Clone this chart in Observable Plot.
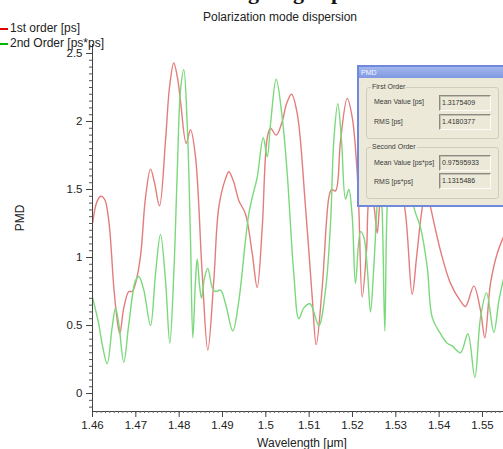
<!DOCTYPE html>
<html><head><meta charset="utf-8">
<script src="https://cdn.jsdelivr.net/npm/d3@7"></script>
<script src="https://cdn.jsdelivr.net/npm/@observablehq/plot@0.6"></script>
<style>
body{margin:0;background:#fff;}
#wrap{position:relative;width:503px;height:449px;overflow:hidden;font-family:"Liberation Sans",Arial,sans-serif;color:#222;}
.abs{position:absolute;white-space:nowrap;}
#dlg{position:absolute;left:357px;top:65px;width:148px;height:142px;background:#ece9d8;border:2px solid #7089dc;box-sizing:border-box;font-size:7px;color:#3a3a3a;}
#dlg .bar{position:absolute;left:0;top:0;right:0;height:11px;background:linear-gradient(#a3b7ee,#7f98e2);color:#f4f6ff;font-size:7px;line-height:11px;padding-left:2px;}
#dlg .grp{position:absolute;border:1px solid #cfcdbd;border-radius:3px;}
#dlg .gl{position:absolute;background:#ece9d8;padding:0 1px;line-height:8px;}
#dlg .lb{position:absolute;line-height:8px;}
#dlg .vb{position:absolute;border:1px solid;border-color:#8d8b80 #fbfbf8 #fbfbf8 #8d8b80;box-shadow:inset 1px 1px 0 #c2c0b4;box-sizing:border-box;padding-left:2px;line-height:14px;color:#333;}
</style></head>
<body>
<div id="wrap">
  <div id="chart" class="abs" style="left:0;top:0"></div>
  <svg class="abs" style="left:0;top:0" width="503" height="10"><text x="248" y="-1" font-family="Liberation Serif" font-weight="bold" font-size="22" fill="#111">g</text><text x="293" y="-1" font-family="Liberation Serif" font-weight="bold" font-size="22" fill="#111">g</text><text x="331" y="-1" font-family="Liberation Serif" font-weight="bold" font-size="22" fill="#111">p</text></svg>
  <div class="abs" id="title" style="left:0;width:560px;top:10px;text-align:center;font-size:12px;line-height:14px;"></div>
  <div class="abs" style="left:0;top:22px;font-size:12px;line-height:13px;"><span style="display:inline-block;width:8px;height:1.5px;background:#e00000;vertical-align:middle;margin-right:2px;"></span><span id="leg1"></span></div>
  <div class="abs" style="left:0;top:37px;font-size:12px;line-height:13px;"><span style="display:inline-block;width:8px;height:1.5px;background:#00b400;vertical-align:middle;margin-right:2px;"></span><span id="leg2"></span></div>
  <div class="abs" id="ylab" style="left:20px;top:218px;font-size:12px;transform:translate(-50%,-50%) rotate(-90deg);"></div>
  <div class="abs" id="xlab" style="left:302px;top:443px;font-size:12px;transform:translate(-50%,-50%);"></div>
  <div id="dlg">
    <div class="bar">PMD</div>
    <div class="grp" style="left:7px;top:20px;width:131px;height:50px;"></div>
    <div class="gl" style="left:12px;top:16px;">First Order</div>
    <div class="lb" style="left:15px;top:31px;">Mean Value [ps]</div>
    <div class="vb" style="left:80px;top:28px;width:52px;height:16px;" id="v1"></div>
    <div class="lb" style="left:15px;top:51px;">RMS [ps]</div>
    <div class="vb" style="left:80px;top:47px;width:52px;height:16px;" id="v2"></div>
    <div class="grp" style="left:7px;top:80px;width:131px;height:50px;"></div>
    <div class="gl" style="left:12px;top:76px;">Second Order</div>
    <div class="lb" style="left:15px;top:92px;">Mean Value [ps*ps]</div>
    <div class="vb" style="left:80px;top:88px;width:52px;height:16px;" id="v3"></div>
    <div class="lb" style="left:15px;top:111px;">RMS [ps*ps]</div>
    <div class="vb" style="left:80px;top:106px;width:52px;height:16px;" id="v4"></div>
  </div>
</div>
<script>
const titleText = "Polarization mode dispersion";
const seriesNames = ["1st order [ps]", "2nd Order [ps*ps]"];
const xLabel = "Wavelength [μm]";
const yLabel = "PMD";
const statValues = ["1.3175409", "1.4180377", "0.97595933", "1.1315486"];

const xTicks = [1.46, 1.47, 1.48, 1.49, 1.50, 1.51, 1.52, 1.53, 1.54, 1.55];
const xTickLabels = ["1.46","1.47","1.48","1.49","1.5","1.51","1.52","1.53","1.54","1.55"];
const yTicks = [0, 0.5, 1, 1.5, 2, 2.5];
const yTickLabels = ["0","0.5","1","1.5","2","2.5"];

// 1st order PMD [ps]
const wl1 = [1.46007,1.46092,1.46185,1.46277,1.46376,1.46492,1.46570,1.46630,1.46722,1.46838,1.46916,1.46992,1.47108,1.47223,1.47339,1.47431,1.47546,1.47685,1.47777,1.47876,1.47962,1.48031,1.48163,1.48262,1.48377,1.48532,1.48661,1.48799,1.48915,1.49070,1.49146,1.49254,1.49376,1.49531,1.49686,1.49801,1.49917,1.50032,1.50108,1.50240,1.50378,1.50477,1.50593,1.50724,1.50916,1.51070,1.51163,1.51301,1.51454,1.51516,1.51608,1.51724,1.51878,1.51994,1.52109,1.52146,1.52224,1.52324,1.52393,1.52451,1.52508,1.52571,1.52635,1.52924,1.53224,1.53378,1.53478,1.53570,1.53639,1.53708,1.53801,1.54031,1.54262,1.54493,1.54608,1.54800,1.54955,1.55054,1.55185,1.55340,1.55485];
const pmd1 = [1.26,1.40,1.45,1.43,1.27,0.78,0.54,0.44,0.63,0.75,0.75,0.81,1.01,1.44,1.65,1.55,1.38,1.86,2.25,2.43,2.32,2.15,1.84,1.94,1.74,0.88,0.32,0.83,1.37,1.58,1.63,1.56,1.42,1.32,1.03,0.78,1.22,1.88,1.95,1.90,2.00,2.13,2.20,2.06,1.37,0.71,0.36,0.78,1.44,1.50,1.49,1.86,2.17,2.03,1.62,1.37,0.71,1.05,1.45,1.47,1.35,1.18,1.40,1.90,1.32,0.73,1.00,1.27,1.42,1.50,1.37,1.05,0.81,0.68,0.64,0.79,0.61,0.41,0.81,1.03,1.15];

// 2nd order PMD [ps*ps]
const wl2 = [1.46007,1.46145,1.46231,1.46339,1.46455,1.46531,1.46607,1.46722,1.46838,1.46992,1.47069,1.47184,1.47339,1.47454,1.47569,1.47685,1.47784,1.47876,1.47955,1.48031,1.48107,1.48186,1.48262,1.48315,1.48377,1.48416,1.48469,1.48516,1.48585,1.48661,1.48763,1.48839,1.48954,1.49070,1.49238,1.49376,1.49531,1.49607,1.49686,1.49801,1.49940,1.50032,1.50108,1.50240,1.50378,1.50493,1.50646,1.50761,1.50877,1.51020,1.51223,1.51377,1.51493,1.51569,1.51661,1.51747,1.51839,1.51915,1.51994,1.52070,1.52185,1.52261,1.52340,1.52416,1.52492,1.52571,1.52624,1.52681,1.52746,1.52801,1.52924,1.53092,1.53224,1.53415,1.53570,1.53725,1.53840,1.54031,1.54186,1.54302,1.54493,1.54662,1.54823,1.54955,1.55093,1.55262,1.55377,1.55485];
const pmd2 = [0.70,0.51,0.35,0.22,0.49,0.63,0.51,0.23,0.51,0.83,0.86,0.76,0.50,0.88,1.17,0.83,0.37,0.88,1.62,2.23,2.38,1.98,1.13,0.41,0.83,0.99,0.80,0.70,0.85,0.92,0.78,0.75,0.76,0.66,0.46,0.68,1.13,1.32,1.44,1.59,1.88,1.74,1.98,2.31,2.03,1.62,0.88,0.55,0.63,0.66,0.50,0.76,1.25,1.86,2.13,1.86,1.43,1.50,1.30,0.81,1.19,1.15,0.93,0.60,0.93,1.40,1.60,1.37,0.46,1.37,1.90,1.40,1.80,1.37,1.22,0.93,0.56,0.44,0.37,0.35,0.30,0.44,0.12,0.56,0.74,0.45,0.68,0.84];

const d1 = wl1.map((w, i) => ({w, v: pmd1[i]}));
const d2 = wl2.map((w, i) => ({w, v: pmd2[i]}));

const xMinor = d3.range(1.460, 1.5549, 0.001);
const yMinor = d3.range(-0.10, 2.56, 0.05);

const chart = Plot.plot({
  width: 503, height: 449,
  marginLeft: 92, marginRight: 0, marginTop: 44, marginBottom: 38,
  x: {domain: [1.46, 1.55485]},
  y: {domain: [-0.132, 2.566]},
  style: {fontFamily: "'Liberation Sans', Arial, sans-serif", fontSize: "11.5px", color: "#222", background: "transparent", overflow: "visible"},
  marks: [
    Plot.line(d1, {x: "w", y: "v", stroke: "#e47c7c", strokeWidth: 1.4, curve: "catmull-rom"}),
    Plot.line(d2, {x: "w", y: "v", stroke: "#7ad97a", strokeWidth: 1.4, curve: "catmull-rom"}),
    Plot.ruleX([1.46], {stroke: "#444"}),
    Plot.ruleY([-0.132], {stroke: "#444"}),
    Plot.axisY(yMinor, {tickSize: 3, tickFormat: () => "", label: null, stroke: "#555"}),
    Plot.axisY(yTicks, {tickSize: 6, tickPadding: 4, tickFormat: d => yTickLabels[yTicks.indexOf(d)], label: null, stroke: "#444"}),
    Plot.axisX(xMinor, {tickSize: 2, tickFormat: () => "", label: null, stroke: "#666"}),
    Plot.axisX(xTicks, {tickSize: 6, tickPadding: 3, tickFormat: d => xTickLabels[xTicks.indexOf(d)], label: null, stroke: "#444"})
  ]
});
document.getElementById("chart").appendChild(chart);
document.getElementById("title").textContent = titleText;
document.getElementById("leg1").textContent = seriesNames[0];
document.getElementById("leg2").textContent = seriesNames[1];
document.getElementById("xlab").textContent = xLabel;
document.getElementById("ylab").textContent = yLabel;
["v1","v2","v3","v4"].forEach((id, i) => document.getElementById(id).textContent = statValues[i]);
</script>
</body></html>
